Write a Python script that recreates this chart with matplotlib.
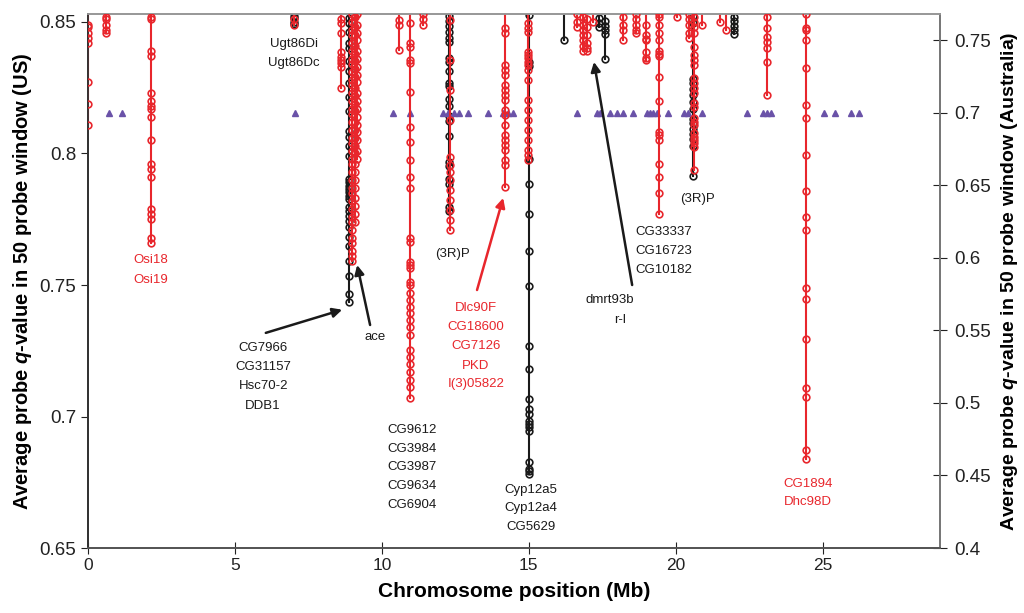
import matplotlib
matplotlib.use("Agg")
import matplotlib.pyplot as plt

plt.rcParams['font.family'] = ['Liberation Sans', 'DejaVu Sans']
plt.rcParams['mathtext.fontset'] = 'custom'
plt.rcParams['mathtext.it'] = 'Liberation Sans:italic:bold'
plt.rcParams['mathtext.rm'] = 'Liberation Sans:bold'

RED = '#e8262c'
BLACK = '#1a1a1a'
PURPLE = '#6a52a8'

# US windows (left axis), one list of q-values per chromosome position
us_pos = [0.0, 0.62, 2.15, 7.0, 8.6, 8.97, 9.07, 9.17, 10.6, 10.95, 11.4, 12.33,
          14.2, 14.98, 16.65, 16.85, 17.0, 17.2, 18.2, 18.65, 19.0, 19.45, 20.05,
          20.45, 20.63, 20.9, 21.5, 21.7, 23.1, 24.45]
us_q = [
    [0.849, 0.848, 0.846, 0.844, 0.842, 0.827, 0.819, 0.811],
    [0.852, 0.851, 0.849, 0.847, 0.846],
    [0.852, 0.851, 0.839, 0.837, 0.823, 0.820, 0.818, 0.817, 0.814, 0.805, 0.796,
     0.794, 0.791, 0.779, 0.777, 0.775, 0.768, 0.766],
    [0.851, 0.849],
    [0.851, 0.8496, 0.846, 0.8386, 0.8367, 0.8356, 0.8344, 0.8329, 0.825],
    [0.853, 0.850, 0.847, 0.845, 0.842, 0.839, 0.836, 0.834, 0.831, 0.828, 0.826,
     0.823, 0.820, 0.817, 0.815, 0.812, 0.809, 0.806, 0.804, 0.801, 0.798, 0.796,
     0.793, 0.790, 0.787, 0.785, 0.782, 0.779, 0.776, 0.774, 0.771, 0.768, 0.766,
     0.763, 0.761, 0.759],
    [0.852, 0.848, 0.845, 0.841, 0.838, 0.835, 0.832, 0.829, 0.825, 0.822, 0.819,
     0.816, 0.812, 0.809, 0.806, 0.803, 0.800, 0.796, 0.793, 0.790, 0.787, 0.783,
     0.780, 0.777, 0.774],
    [0.853, 0.849, 0.846, 0.843, 0.839, 0.836, 0.833, 0.830, 0.827, 0.823, 0.820,
     0.817, 0.814, 0.811, 0.808, 0.805, 0.801, 0.798],
    [0.8508, 0.8489, 0.8394],
    [0.8496, 0.842, 0.8405, 0.8356, 0.8344, 0.8234, 0.8101, 0.8044, 0.7976, 0.7911,
     0.7869, 0.7679, 0.7664, 0.7588, 0.7577, 0.7565, 0.7512, 0.7501, 0.747, 0.7444,
     0.7417, 0.7394, 0.7368, 0.7341, 0.7311, 0.7254, 0.7227, 0.72, 0.717, 0.714,
     0.7113, 0.7071],
    [0.853, 0.851, 0.849],
    [0.8508, 0.8356, 0.8242, 0.8128, 0.7987, 0.7957, 0.793, 0.79, 0.7862, 0.7824,
     0.7786, 0.7748, 0.771],
    [0.8477, 0.8458, 0.8337, 0.8318, 0.8299, 0.8261, 0.8242, 0.8223, 0.8204, 0.8166,
     0.8147, 0.8109, 0.8071, 0.8052, 0.8033, 0.8014, 0.7976, 0.7957, 0.7873],
    [0.8496, 0.8477, 0.8462, 0.8386, 0.8375, 0.8363, 0.8348, 0.8337, 0.8318, 0.828,
     0.8204, 0.8166, 0.8128, 0.809, 0.8052, 0.8014, 0.7995, 0.7976],
    [0.853, 0.850, 0.848],
    [0.852, 0.849, 0.847, 0.845, 0.843, 0.841, 0.839],
    [0.851, 0.848, 0.845, 0.842, 0.839, 0.840],
    [0.850],
    [0.852, 0.849, 0.847, 0.843],
    [0.853, 0.851, 0.849, 0.847, 0.846],
    [0.849, 0.845, 0.8435, 0.843, 0.8386, 0.8363, 0.8356],
    [0.853, 0.852, 0.849, 0.846, 0.843, 0.839, 0.838, 0.837, 0.829, 0.820, 0.808,
     0.807, 0.805, 0.796, 0.791, 0.785, 0.777],
    [0.852],
    [0.853, 0.851, 0.849, 0.846, 0.844],
    [0.8519, 0.85, 0.8481, 0.8458, 0.8405, 0.8375, 0.8356, 0.8337, 0.8287, 0.8268,
     0.8249, 0.823, 0.8192, 0.8177, 0.8135, 0.812, 0.8109, 0.8078, 0.8063, 0.8052,
     0.804, 0.8025, 0.7938],
    [0.849],
    [0.850],
    [0.847],
    [0.852, 0.8477, 0.8443, 0.8424, 0.8401, 0.8348, 0.8223],
    [0.853, 0.8477, 0.847, 0.8432, 0.8325, 0.8185, 0.8135, 0.7995, 0.7858, 0.7759,
     0.771, 0.7489, 0.7447, 0.7295, 0.7109, 0.7075, 0.6874, 0.684],
]

# Australia windows (right axis)
au_pos = [7.0, 8.88, 12.28, 15.02, 16.2, 17.4, 17.6, 20.6, 22.0]
au_q = [
    [0.767, 0.765, 0.7625, 0.761],
    [0.765, 0.7616, 0.756, 0.7478, 0.7443, 0.736, 0.7291, 0.7202, 0.7112, 0.7015,
     0.6877, 0.6836, 0.6774, 0.6705, 0.6546, 0.6525, 0.6498, 0.6477, 0.6456, 0.6429,
     0.6408, 0.6353, 0.6325, 0.6291, 0.6256, 0.6215, 0.6146, 0.6084, 0.598, 0.5877,
     0.5753, 0.5697],
    [0.7664, 0.7629, 0.7595, 0.756, 0.7512, 0.7491, 0.7374, 0.7353, 0.7291, 0.7202,
     0.7181, 0.7098, 0.705, 0.6981, 0.6946, 0.6843, 0.6663, 0.6636, 0.6546, 0.6512,
     0.6353, 0.6325],
    [0.7671, 0.7353, 0.7319, 0.6684, 0.6512, 0.6305, 0.6049, 0.5808, 0.5394, 0.5235,
     0.5028, 0.4959, 0.4925, 0.4876, 0.4856, 0.4835, 0.4807, 0.4593, 0.4545, 0.4531,
     0.451],
    [0.75],
    [0.765, 0.762, 0.759],
    [0.763, 0.760, 0.757, 0.7545, 0.737],
    [0.7664, 0.7616, 0.7236, 0.7202, 0.7167, 0.7119, 0.7077, 0.7029, 0.696, 0.6926,
     0.6891, 0.6857, 0.6822, 0.6774, 0.6567],
    [0.766, 0.763, 0.760, 0.757, 0.754],
]

# triangles (right axis at 0.7)
tri_pos = [0.71, 1.16, 7.05, 10.38, 10.96, 12.08, 12.25, 12.45, 12.62, 12.93, 13.61,
           14.13, 14.3, 14.47, 16.64, 17.33, 17.43, 17.77, 18.01, 18.21, 18.55, 19.03,
           19.13, 19.23, 19.37, 19.74, 20.29, 20.42, 20.9, 22.43, 22.97, 23.11, 23.25,
           25.05, 25.43, 25.97, 26.24]
tri_level = 0.7

fig = plt.figure(figsize=(10.24, 6.13), dpi=100)
ax = fig.add_subplot(111)
ax2 = ax.twinx()
fig.subplots_adjust(left=0.086, right=0.918, bottom=0.106, top=0.977)

ax.set_xlim(0, 29)
ax.set_ylim(0.65, 0.853)
ax2.set_ylim(0.4, 0.768)

# australia (black) behind
for x, qs in zip(au_pos, au_q):
    ax2.plot([x, x], [min(qs), 0.9], color=BLACK, lw=1.5, zorder=2)
    ax2.plot([x] * len(qs), qs, 'o', ms=4.8, mfc='none', mec=BLACK, mew=1.2, zorder=3)

ax2.plot(tri_pos, [tri_level] * len(tri_pos), '^', ms=5, color=PURPLE, mec=PURPLE,
         ls='none', zorder=4)

for x, qs in zip(us_pos, us_q):
    ax.plot([x, x], [min(qs), 0.9], color=RED, lw=1.5, zorder=2)
    ax.plot([x] * len(qs), qs, 'o', ms=4.8, mfc='none', mec=RED, mew=1.2, zorder=3)

ax.set_zorder(ax2.get_zorder() + 1)
ax.patch.set_visible(False)

# labels
def stack(x, ys, names, color):
    for y, n in zip(ys, names):
        ax.text(x, y, n, color=color, fontsize=9.5, ha='center', va='center')

stack(7.01, [0.8416, 0.8344], ['Ugt86Di', 'Ugt86Dc'], BLACK)
stack(2.15, [0.7595, 0.7519], ['Osi18', 'Osi19'], RED)
stack(5.96, [0.726, 0.7188, 0.7116, 0.704], ['CG7966', 'CG31157', 'Hsc70-2', 'DDB1'], BLACK)
stack(9.77, [0.7302], ['ace'], BLACK)
stack(11.03, [0.6949, 0.6877, 0.6808, 0.6736, 0.6664],
      ['CG9612', 'CG3984', 'CG3987', 'CG9634', 'CG6904'], BLACK)
stack(12.42, [0.7618], ['(3R)P'], BLACK)
stack(13.2, [0.7413, 0.734, 0.7268, 0.7192, 0.7124],
      ['Dlc90F', 'CG18600', 'CG7126', 'PKD', 'I(3)05822'], RED)
stack(15.08, [0.6721, 0.6652, 0.658], ['Cyp12a5', 'Cyp12a4', 'CG5629'], BLACK)
stack(17.77, [0.7443], ['dmrt93b'], BLACK)
stack(18.1, [0.7367], ['r-l'], BLACK)
stack(19.6, [0.7702, 0.763, 0.7557], ['CG33337', 'CG16723', 'CG10182'], BLACK)
stack(20.73, [0.7827], ['(3R)P'], BLACK)
stack(24.5, [0.6744, 0.6675], ['CG1894', 'Dhc98D'], RED)

arrow = dict(arrowstyle='-|>', lw=1.8, mutation_scale=14, shrinkA=0, shrinkB=0)
ax.annotate('', xy=(8.65, 0.7406), xytext=(6.05, 0.7318), arrowprops=dict(arrow, color=BLACK))
ax.annotate('', xy=(9.16, 0.7576), xytext=(9.6, 0.7348), arrowprops=dict(arrow, color=BLACK))
ax.annotate('', xy=(14.13, 0.7831), xytext=(13.24, 0.7481), arrowprops=dict(arrow, color=RED))
ax.annotate('', xy=(17.22, 0.8348), xytext=(18.52, 0.75), arrowprops=dict(arrow, color=BLACK))

# axes styling
ax.set_xticks([0, 5, 10, 15, 20, 25])
ax.set_yticks([0.65, 0.7, 0.75, 0.8, 0.85])
ax.set_yticklabels(['0.65', '0.7', '0.75', '0.8', '0.85'])
ax2.set_yticks([0.4, 0.45, 0.5, 0.55, 0.6, 0.65, 0.7, 0.75])
ax2.set_yticklabels(['0.4', '0.45', '0.5', '0.55', '0.6', '0.65', '0.7', '0.75'])
ax.tick_params(axis='x', direction='inout', length=8, labelsize=12.5, colors='#222222')
ax.tick_params(axis='y', direction='out', length=5, labelsize=13.5, colors='#222222')
ax2.tick_params(axis='y', direction='inout', length=10, pad=5, labelsize=13.5, colors='#222222')
for a in (ax, ax2):
    a.spines['top'].set_color('#999999')
    a.spines['right'].set_color('#777777')
    a.spines['left'].set_color('#333333')
    a.spines['bottom'].set_color('#555555')
    for s in a.spines.values():
        s.set_linewidth(1.3)

ax.set_xlabel('Chromosome position (Mb)', fontsize=15, fontweight='bold', labelpad=6)
ax.set_ylabel('Average probe $q$-value in 50 probe window (US)', fontsize=14.5,
              fontweight='bold', labelpad=4)
ax2.set_ylabel('Average probe $q$-value in 50 probe window (Australia)', fontsize=14,
               fontweight='bold', labelpad=6)

fig.savefig('out.png', dpi=100)
